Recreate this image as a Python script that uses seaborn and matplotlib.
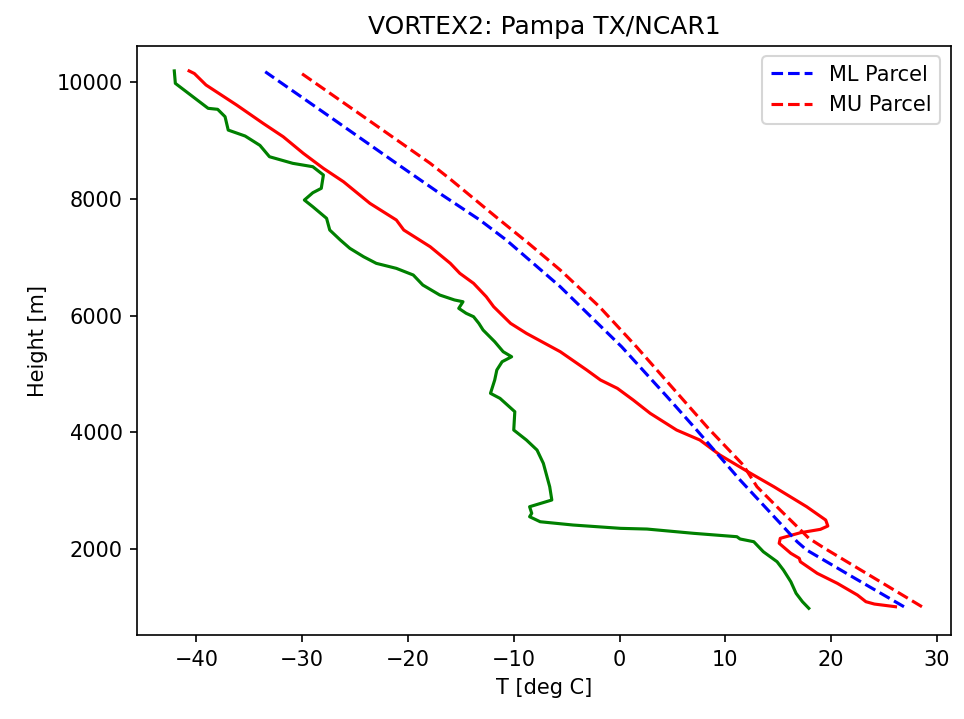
import matplotlib
matplotlib.use("Agg")
import matplotlib.pyplot as plt
import seaborn as sns
import pandas as pd

# Environmental temperature profile (deg C) vs height (m), top to bottom
temp_c = [-40.7, -40.2, -39.1, -36.2, -33.7, -31.8, -29.9, -28.0, -26.1, -23.6,
          -21.1, -20.4, -17.9, -16.0, -15.1, -13.8, -12.6, -11.9, -10.3, -8.8,
          -5.6, -3.1, -1.8, -0.2, 1.3, 2.9, 5.4, 7.6, 9.5, 12.4,
          14.6, 17.7, 19.5, 19.7, 19.0, 17.1, 15.2, 15.1, 16.2, 17.0,
          17.1, 18.7, 20.6, 22.5, 23.3, 24.1, 26.1]
temp_z = [10185, 10140, 9944, 9601, 9288, 9059, 8775, 8518, 8289, 7919,
          7634, 7463, 7177, 6893, 6722, 6551, 6322, 6151, 5866, 5695,
          5381, 5068, 4897, 4754, 4554, 4327, 4041, 3870, 3613, 3300,
          3071, 2729, 2501, 2399, 2342, 2284, 2188, 2103, 1932, 1846,
          1788, 1589, 1418, 1218, 1104, 1064, 1018]

# Dewpoint profile (deg C) vs height (m), top to bottom
dew_c = [-42.1, -42.0, -38.9, -38.0, -37.3, -37.0, -35.4, -34.0, -33.1, -30.9,
         -29.0, -28.0, -28.2, -29.0, -29.8, -29.0, -27.7, -27.4, -26.4, -25.5,
         -24.2, -23.0, -21.1, -19.5, -18.6, -17.0, -15.6, -14.8, -15.2, -14.5,
         -13.8, -13.3, -12.9, -11.8, -11.0, -10.2, -11.1, -11.6, -11.8, -12.2,
         -11.3, -9.9, -10.0, -8.8, -7.8, -7.2, -6.6, -6.4, -8.5, -8.3,
         -8.5, -7.5, -4.4, 0.1, 2.6, 7.0, 11.1, 11.4, 12.7, 13.6,
         14.9, 15.5, 16.2, 16.7, 17.3, 17.9]
dew_z = [10185, 9972, 9545, 9528, 9402, 9173, 9071, 8911, 8717, 8604,
         8546, 8404, 8176, 8101, 7976, 7861, 7663, 7463, 7292, 7150,
         7006, 6893, 6807, 6693, 6522, 6351, 6266, 6236, 6123, 6038,
         5980, 5866, 5752, 5552, 5381, 5295, 5210, 5068, 4897, 4669,
         4583, 4355, 4041, 3870, 3699, 3471, 3071, 2844, 2729, 2616,
         2558, 2472, 2416, 2359, 2347, 2274, 2216, 2177, 2130, 1959,
         1788, 1646, 1446, 1247, 1104, 991]

# Mixed-layer parcel path
ml_c = [26.9, 22.3, 17.7, 16.8, 15.2, 11.4, 7.3, 4.5, 0.2, -5.6,
        -10.7, -13.2, -17.0, -21.1, -27.4, -33.5]
ml_z = [1018, 1500, 1988, 2130, 2445, 3186, 4041, 4611, 5466, 6492,
        7291, 7634, 8090, 8604, 9402, 10171]

# Most-unstable parcel path
mu_c = [28.6, 19.4, 17.9, 16.8, 15.2, 13.0, 11.7, 8.4, 5.2, 1.6,
        -1.9, -5.6, -8.6, -11.7, -15.9, -17.9, -24.2, -30.3]
mu_z = [1018, 2017, 2190, 2388, 2672, 3071, 3442, 4070, 4726, 5466,
        6151, 6778, 7235, 7690, 8318, 8604, 9402, 10171]

fig = plt.figure(figsize=(964 / 150, 719 / 150), dpi=150)
ax = fig.add_axes([0.1424, 0.1168, 0.8436, 0.8192])

sns.lineplot(data=pd.DataFrame({"T": temp_c, "z": temp_z}), x="T", y="z",
             sort=False, estimator=None, color="red", lw=1.5, ax=ax)
sns.lineplot(data=pd.DataFrame({"T": dew_c, "z": dew_z}), x="T", y="z",
             sort=False, estimator=None, color="green", lw=1.5, ax=ax)
sns.lineplot(data=pd.DataFrame({"T": ml_c, "z": ml_z}), x="T", y="z",
             sort=False, estimator=None, color="blue", lw=1.5,
             linestyle="--", label="ML Parcel", ax=ax)
sns.lineplot(data=pd.DataFrame({"T": mu_c, "z": mu_z}), x="T", y="z",
             sort=False, estimator=None, color="red", lw=1.5,
             linestyle="--", label="MU Parcel", ax=ax)

ax.set_xlim(-45.6, 31.3)
ax.set_ylim(534, 10611)
ax.set_xticks([-40, -30, -20, -10, 0, 10, 20, 30])
ax.set_yticks([2000, 4000, 6000, 8000, 10000])
ax.set_xlabel("T [deg C]")
ax.set_ylabel("Height [m]")
ax.set_title("VORTEX2: Pampa TX/NCAR1")
ax.legend(loc="upper right")

fig.savefig("out.png", dpi=150)
